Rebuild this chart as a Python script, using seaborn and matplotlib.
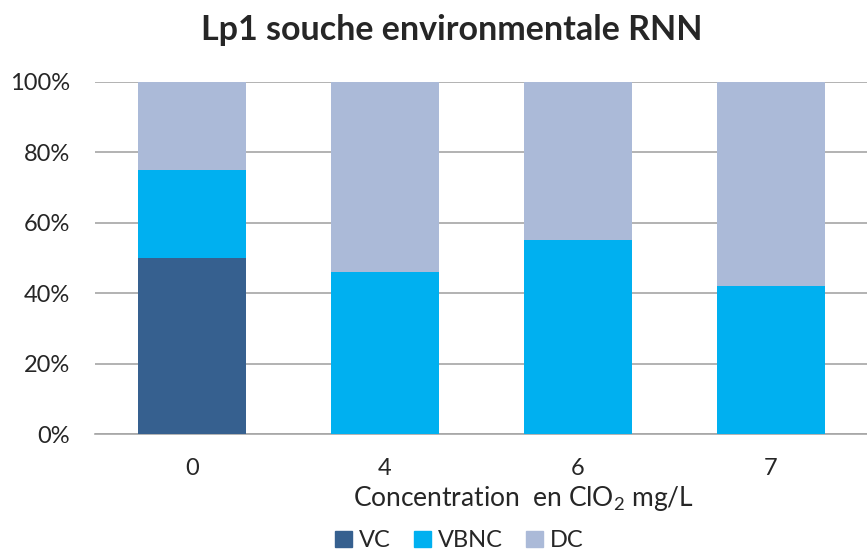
import matplotlib
matplotlib.use("Agg")
import matplotlib.pyplot as plt
import numpy as np
import pandas as pd
import seaborn as sns

CATS = ["0", "4", "6", "7"]
VC = [50, 0, 0, 0]
VBNC = [25, 46, 55, 42]
DC = [25, 54, 45, 58]

C_VC = "#36608f"
C_VBNC = "#00b0f0"
C_DC = "#abbad8"

sns.set_theme(style="white")
plt.rcParams["font.family"] = ["Lato", "DejaVu Sans"]
plt.rcParams["mathtext.default"] = "regular"

df = pd.DataFrame({"cat": CATS, "VC": VC, "VBNC": VBNC, "DC": DC})
df["top_vbnc"] = df["VC"] + df["VBNC"]
df["top_dc"] = df["top_vbnc"] + df["DC"]

fig = plt.figure(figsize=(8.67, 5.53), dpi=100)
ax = fig.add_axes([0.11, 0.215, 0.89, 0.637])

for col, color in [("top_dc", C_DC), ("top_vbnc", C_VBNC), ("VC", C_VC)]:
    sns.barplot(data=df, x="cat", y=col, color=color, width=0.56,
                saturation=1, ax=ax, zorder=3, linewidth=0)

ax.set_ylim(0, 100)
ax.set_yticks(np.arange(0, 101, 20))
ax.set_yticklabels([f"{v}%" for v in range(0, 101, 20)], fontsize=17)
ax.tick_params(axis="x", labelsize=17, length=0, pad=17)
ax.tick_params(axis="y", length=0, pad=18)
ax.grid(axis="y", color="#a6a6a6", linewidth=1.2, zorder=0)
for s in ["top", "right", "left"]:
    ax.spines[s].set_visible(False)
ax.spines["bottom"].set_color("#a6a6a6")
ax.spines["bottom"].set_linewidth(1.2)
ax.set_xlabel("Concentration  en ClO$_2$ mg/L", fontsize=19, labelpad=4)
ax.xaxis.label.set_x(0.555)
ax.set_ylabel("")
ax.set_title("Lp1 souche environmentale RNN", fontsize=24.5, fontweight="bold",
             pad=30, x=0.462)

handles = [plt.Rectangle((0, 0), 1, 1, color=c) for c in (C_VC, C_VBNC, C_DC)]
fig.legend(handles, ["VC", "VBNC", "DC"], loc="lower center", ncol=3,
           bbox_to_anchor=(0.53, -0.035), frameon=False, fontsize=17,
           handlelength=0.7, handleheight=0.7, handletextpad=0.3,
           columnspacing=1.0)

fig.savefig("out.png", dpi=100)
